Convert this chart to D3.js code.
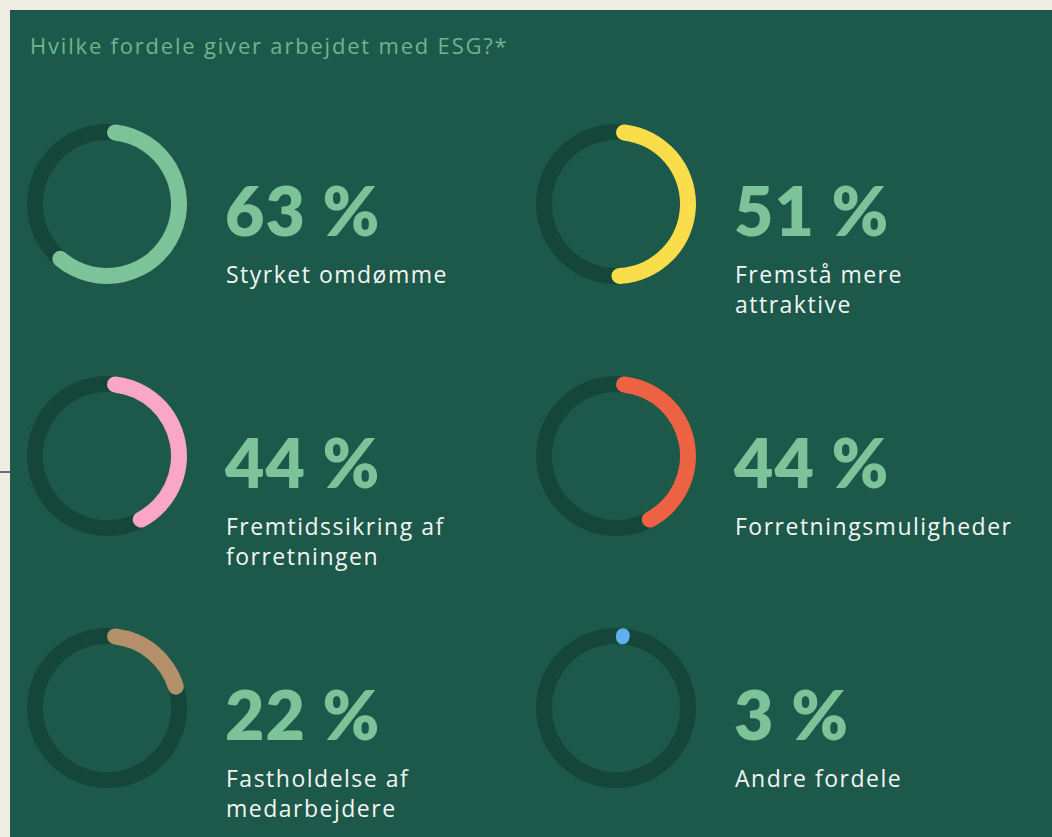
<!DOCTYPE html>
<html>
<head>
<meta charset="utf-8">
<script src="https://cdn.jsdelivr.net/npm/d3@7"></script>
<style>
    html, body { margin: 0; padding: 0; background: #efede2; }
    svg { display: block; }
</style>
</head>
<body>
<div id="chart"></div>
<script>
// values
const title = "Hvilke fordele giver arbejdet med ESG?*";
const values = [63, 51, 44, 44, 22, 3];
const labels = [
    ["Styrket omdømme"],
    ["Fremstå mere", "attraktive"],
    ["Fremtidssikring af", "forretningen"],
    ["Forretningsmuligheder"],
    ["Fastholdelse af", "medarbejdere"],
    ["Andre fordele"]
];
const arcColors = ["#7cc39a", "#fadd4b", "#f9a7c4", "#ee6244", "#b3906a", "#5eb0ee"];

const width = 1052, height = 837;

let svg = d3.select("#chart").append("svg")
    .attr("width", width)
    .attr("height", height);

// panel
svg.append("rect")
    .attr("x", 10).attr("y", 10)
    .attr("width", width - 10).attr("height", height - 10)
    .attr("fill", "#1d594a");

// little stray rule on the left edge
svg.append("line")
    .attr("x1", 0).attr("x2", 10)
    .attr("y1", 472).attr("y2", 472)
    .attr("stroke", "#3b3d52").attr("stroke-width", 1.5);

svg.append("text")
    .attr("x", 30).attr("y", 54)
    .attr("fill", "#6cb68e")
    .attr("font-family", "'Open Sans', 'Noto Sans', sans-serif")
    .attr("font-size", 22)
    .attr("letter-spacing", 1.8)
    .text(title);

// grid positions
let xCol = d3.scalePoint().domain([0, 1]).range([107, 616]);
let yRow = d3.scalePoint().domain([0, 1, 2]).range([204, 708]);
let angle = d3.scaleLinear().domain([0, 100]).range([0, 2 * Math.PI]);

let track = d3.arc()
    .innerRadius(64).outerRadius(80)
    .startAngle(0).endAngle(2 * Math.PI);

let arc = d3.arc()
    .innerRadius(64).outerRadius(80)
    .cornerRadius(8)
    .startAngle(0);

let data = values.map((v, i) => ({value: v, label: labels[i], color: arcColors[i], col: i % 2, row: Math.floor(i / 2)}));

let cells = svg.selectAll(".cell")
    .data(data)
    .enter()
    .append("g")
    .attr("class", "cell")
    .attr("transform", d => `translate(${xCol(d.col)},${yRow(d.row)})`);

cells.append("path")
    .attr("d", track())
    .attr("fill", "#15463a");

cells.append("path")
    .attr("d", d => arc.endAngle(angle(d.value))())
    .attr("fill", d => d.color);

cells.append("text")
    .attr("x", 118).attr("y", 32)
    .attr("fill", "#7cc39a")
    .attr("font-family", "Lato, 'Noto Sans', sans-serif")
    .attr("font-weight", 800)
    .attr("font-size", 68)
    .attr("letter-spacing", 1)
    .text(d => d.value + " %");

cells.append("text")
    .attr("x", 119).attr("y", 79)
    .attr("fill", "#f2f5f2")
    .attr("font-family", "'Open Sans', 'Noto Sans', sans-serif")
    .attr("font-size", 23)
    .attr("letter-spacing", 1.5)
    .selectAll("tspan")
    .data(d => d.label)
    .enter()
    .append("tspan")
    .attr("x", 119)
    .attr("dy", (d, i) => i === 0 ? 0 : 30)
    .text(d => d);
</script>
</body>
</html>
